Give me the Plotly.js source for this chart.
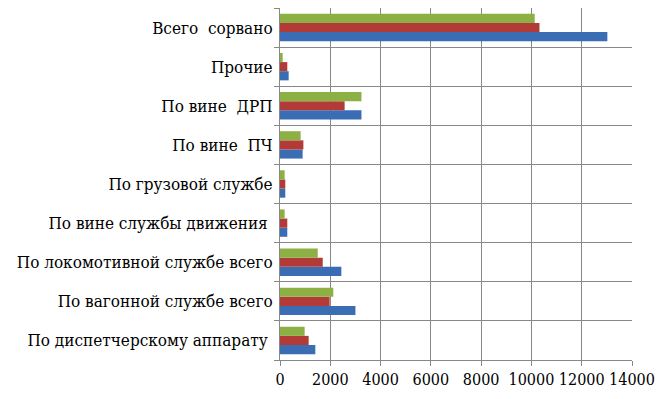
<!DOCTYPE html>
<html><head><meta charset="utf-8">
<script src="https://cdn.plot.ly/plotly-3.0.1.min.js"></script>
<style>html,body{margin:0;padding:0;background:#fff}#chart{width:670px;height:399px}</style>
</head><body><div id="chart"></div>
<script>
const categories = [
  "По диспетчерскому аппарату\u00a0",
  "По вагонной службе всего",
  "По локомотивной службе всего",
  "По вине службы движения\u00a0",
  "По грузовой службе",
  "По вине\u00a0\u00a0ПЧ",
  "По вине\u00a0\u00a0ДРП",
  "Прочие",
  "Всего\u00a0\u00a0сорвано"
];
const series1 = [1405, 3000, 2440, 290, 210, 900, 3240, 345, 13020];
const series2 = [1140, 1975, 1700, 290, 210, 930, 2570, 290, 10320];
const series3 = [980, 2120, 1500, 185, 185, 820, 3240, 106, 10130];
const xTicks = [0, 2000, 4000, 6000, 8000, 10000, 12000, 14000];

const FONT = '"DejaVu Serif Condensed", "DejaVu Serif", serif';
const mk = (name, vals, color) => ({
  type: 'bar', orientation: 'h', name: name, x: vals, y: categories,
  marker: {color: color, line: {width: 0}}, hoverinfo: 'x'
});
const data = [
  mk('Ряд1', series1, '#3b6db4'),
  mk('Ряд2', series2, '#b23b37'),
  mk('Ряд3', series3, '#8cb043')
];
const layout = {
  width: 670, height: 399,
  margin: {l: 280, r: 38, t: 8, b: 39},
  paper_bgcolor: '#fff', plot_bgcolor: '#fff',
  showlegend: false, barmode: 'group', bargap: 0.3, bargroupgap: 0,
  font: {family: FONT, size: 17, color: '#000'},
  xaxis: {
    range: [0, 14000], tickvals: xTicks, ticktext: xTicks.map(String),
    showgrid: true, gridcolor: '#888888', gridwidth: 1,
    showline: true, linecolor: '#888888', linewidth: 1,
    ticks: 'outside', ticklen: 5, tickcolor: '#888888', tickangle: 0,
    tickfont: {family: FONT, size: 16}, zeroline: false, fixedrange: true
  },
  yaxis: {
    type: 'category', categoryorder: 'array', categoryarray: categories,
    tickson: 'boundaries', showgrid: true, gridcolor: '#888888', gridwidth: 1,
    showline: true, linecolor: '#888888', linewidth: 1,
    ticks: 'outside', ticklen: 5, tickcolor: '#888888', ticklabelstandoff: 3,
    tickfont: {family: FONT, size: 17}, automargin: false, fixedrange: true
  }
};
Plotly.newPlot('chart', data, layout, {displayModeBar: false, staticPlot: true});
</script></body></html>
